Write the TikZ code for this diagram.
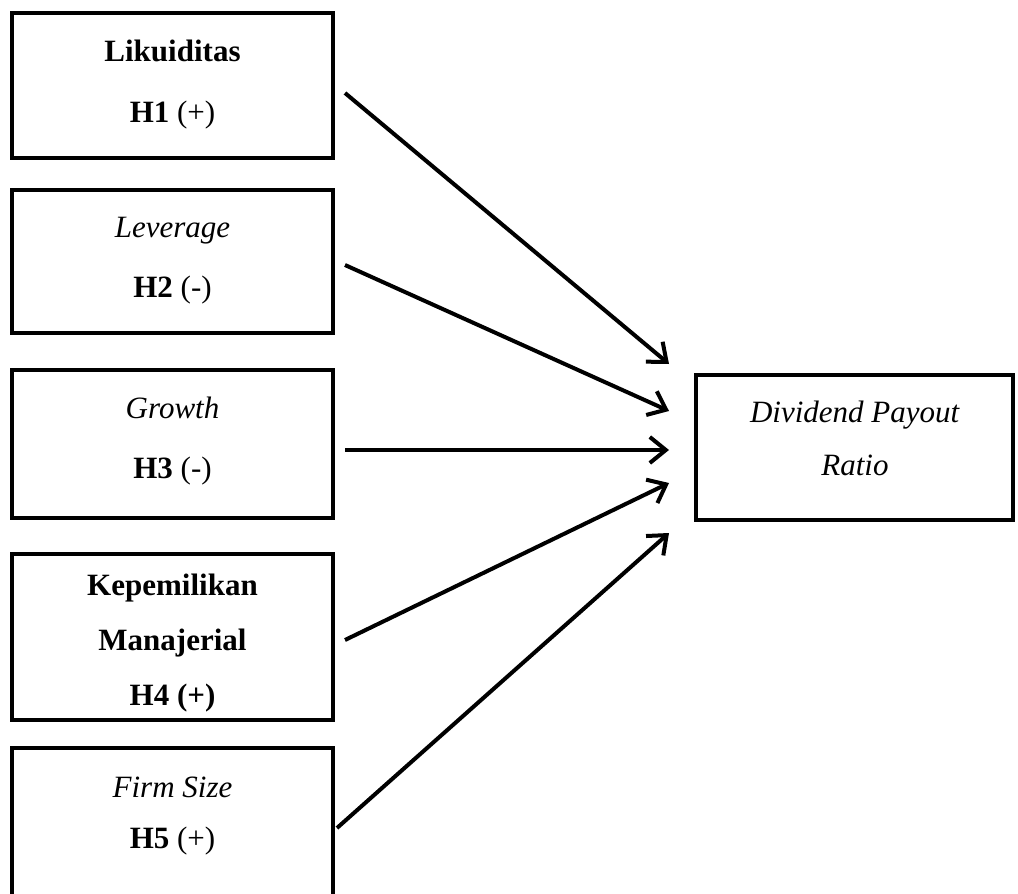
\documentclass[tikz,border=0pt]{standalone}
\usepackage{fontspec}
\setmainfont{Liberation Serif}
\usetikzlibrary{arrows.meta}
\begin{document}
\begin{tikzpicture}[x=1pt,y=1pt,
  box/.style={draw=black,line width=4pt,minimum width=321pt,inner sep=0pt,fill=white},
  txt/.style={anchor=base,inner sep=0pt,font=\fontsize{31}{37}\selectfont},
  link/.style={line width=4pt,-{Straight Barb[length=16pt,width=26pt,line width=4pt]}}]
\clip (0,0) rectangle (1018,-894);
\fill[white] (0,0) rectangle (1018,-894);
% boxes
\node[box,minimum height=145pt] (b1) at (172.5,-85.5) {};
\node[box,minimum height=143pt] (b2) at (172.5,-261.5) {};
\node[box,minimum height=148pt] (b3) at (172.5,-444) {};
\node[box,minimum height=166pt] (b4) at (172.5,-637) {};
\node[box,minimum height=152pt] (b5) at (172.5,-824) {};
\node[box,minimum width=317pt,minimum height=145pt] (r) at (854.5,-447.5) {};
% texts
\node[txt] (t1a) at (172.5,-61) {\textbf{Likuiditas}};
\node[txt] (t1b) at (172.5,-122) {\textbf{H1} (+)};
\node[txt] (t2a) at (172.5,-237) {\textit{Leverage}};
\node[txt] (t2b) at (172.5,-297) {\textbf{H2} (-)};
\node[txt] (t3a) at (172.5,-418) {\textit{Growth}};
\node[txt] (t3b) at (172.5,-478) {\textbf{H3} (-)};
\node[txt] (t4a) at (172.5,-595) {\textbf{Kepemilikan}};
\node[txt] (t4b) at (172.5,-650) {\textbf{Manajerial}};
\node[txt] (t4c) at (172.5,-705) {\textbf{H4 (+)}};
\node[txt] (t5a) at (172.5,-797) {\textit{Firm Size}};
\node[txt] (t5b) at (172.5,-848) {\textbf{H5} (+)};
\node[txt] (rta) at (855,-422) {\textit{Dividend Payout}};
\node[txt] (rtb) at (855,-475) {\textit{Ratio}};
% connectors
\draw[link] ([xshift=10pt,yshift=-7.5pt]b1.east) -- ([xshift=-25pt,yshift=83.5pt]r.west);
\draw[link] ([xshift=10pt,yshift=-3.5pt]b2.east) -- ([xshift=-25pt,yshift=36.5pt]r.west);
\draw[link] ([xshift=10pt,yshift=-6pt]b3.east) -- ([xshift=-25pt,yshift=-2.5pt]r.west);
\draw[link] ([xshift=10pt,yshift=-3pt]b4.east) -- ([xshift=-25pt,yshift=-35.5pt]r.west);
\draw[link] ([xshift=2pt,yshift=-4pt]b5.east) -- ([xshift=-25pt,yshift=-85.5pt]r.west);
\end{tikzpicture}
\end{document}
